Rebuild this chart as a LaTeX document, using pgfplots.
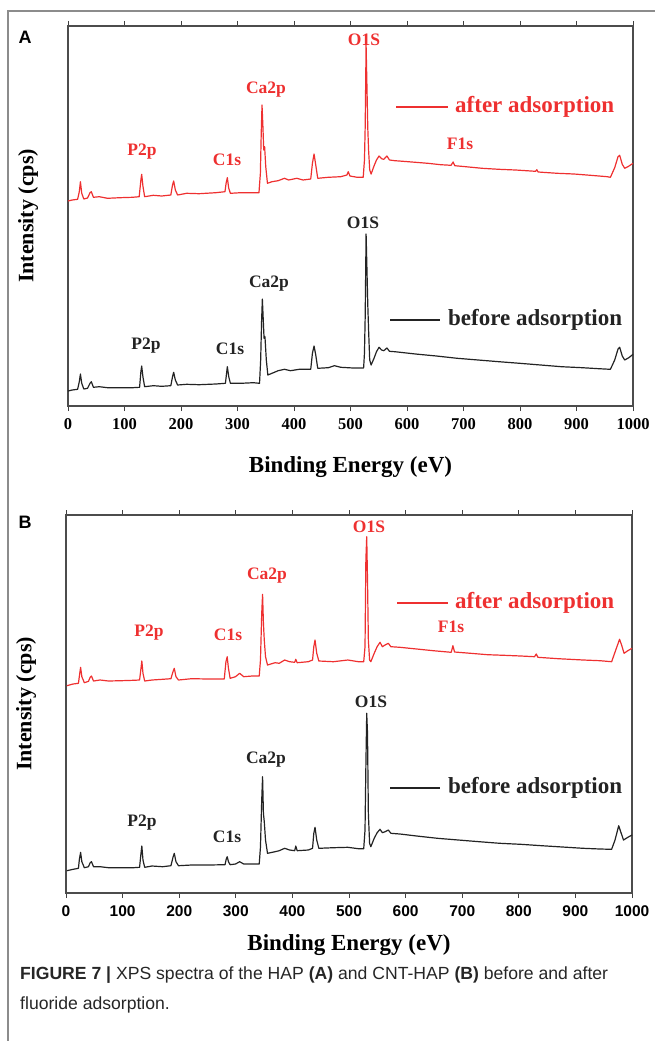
\documentclass[border=0pt]{standalone}
\usepackage{pgfplots}
\pgfplotsset{compat=1.18}
\usepackage{fontspec}
\setmainfont{Liberation Serif}
\newfontfamily\sansf{Liberation Sans}

\definecolor{spred}{RGB}{238,48,48}
\definecolor{spblk}{RGB}{35,35,35}
\definecolor{framegray}{RGB}{140,140,140}

\newcommand{\fs}[1]{\fontsize{#1}{#1}\selectfont}

\pgfplotsset{
  xps/.style={
    scale only axis,
    anchor=north west,
    xmin=0, xmax=1000, ymin=0,
    xtick={0,100,...,1000},
    ytick=\empty,
    xtick align=outside,
    major tick length=5pt,
    tick style={line width=1pt, color=black!75},
    axis line style={line width=1.1pt, color=black!70},
    every axis plot/.append style={line width=1.2pt, line join=round},
    /pgf/number format/assume math mode=true,
    /pgf/number format/1000 sep={},
    xlabel={Binding Energy (eV)},
    ylabel={Intensity (cps)},
    every axis x label/.style={at={(axis description cs:0.5,0)}, anchor=center, font=\fs{23}\bfseries},
    every axis y label/.style={at={(axis description cs:0,0.5)}, xshift=-40pt, rotate=90, anchor=center, font=\fs{22}\bfseries},
    clip=false,
  }
}

\begin{document}
\begin{tikzpicture}[x=1pt,y=1pt]
\useasboundingbox (0,0) rectangle (654,-1041);
% figure frame
\draw[framegray, line width=1.5pt] (8,-1041) -- (8,-11) -- (660,-11);

% ---------------- panel A ----------------
\node[font=\sansf\bfseries\fs{18}] at (25,-37) {A};
\begin{axis}[xps, at={(68pt,-26pt)}, width=565pt, height=380pt, ymax=380,
  xticklabel style={font=\fs{16.5}\bfseries, yshift=-4pt},
  xlabel style={yshift=-61pt}]
\addplot[spred] coordinates {
(0,205) (7.4,206) (17,206.7) (20,214.3) (22,224.3) (24.3,212.7) (28,207)
(34.6,208) (39,213.3) (41.3,214.3) (45,208.7) (55.3,209.3) (70,207.7)
(92,208.3) (114.2,208.7) (126,209.3) (129,226) (130.4,231.7) (132.6,220)
(135.6,209.3) (151,210.7) (165.8,210) (182,211) (185,221) (187,225)
(190,216) (194,211) (210,212.7) (232,212.3) (261.6,213.3) (277.8,214.3)
(280,223.3) (282,228.3) (284.5,217.7) (287.4,212.7) (305.8,213.3)
(328,213.3) (338,213.3) (340.5,232.7) (342,272.7) (343.4,301) (345,279.3)
(346.4,256) (348,259.3) (350,239.3) (353,222.7) (361,224.3) (372,225.3)
(383,227.7) (390.6,226) (405,227.7) (416,226) (429.6,227) (432.6,242.7)
(435.5,252) (438.5,241) (442,227.7) (460.6,228.7) (482.7,229.3) (493.7,231)
(496,234.3) (499,230) (512,228.7) (522.5,228.7) (524.7,246) (526,279.3)
(527.6,361) (529,322.7) (530.6,277.7) (532,256) (534,236) (536.5,232)
(541.6,240) (546,246) (550.5,250) (555,247.3) (559,246.7) (564.5,250)
(569,246) (578.5,245.3) (593,244.7) (615,243.7) (637,242.7) (659.5,241.3)
(678,240.7) (681.6,244) (684.6,240.3) (703.7,239.3) (733,237.7)
(762.7,236.7) (792,236) (827.6,234.7) (829.8,236.3) (832,234) (866,232.7)
(895.4,232) (924.8,230.7) (954.3,229.3) (960,228.7) (967.6,238.3)
(973.5,249.3) (976.4,250.7) (981,241.7) (985.3,237.7) (991,239.3)
(1000,242.7)
};
\addplot[spblk] coordinates {
(0,15) (7.4,16) (17,16.7) (20,24.3) (22,32) (24.3,22.7) (28,17) (34.6,17.7)
(39,22.7) (41.3,24.3) (45,18.7) (55.3,19.3) (70,18.3) (92,18.3) (114.2,18.3)
(126.7,18.7) (129,34.3) (130.4,40) (132.6,29.3) (135.6,19.3) (151,20.3)
(165.8,19.7) (182,20.3) (185,29.3) (187,33.7) (190,26) (194,21) (210,21.7)
(232,21.3) (261.6,22) (278.6,22.7) (281,34.3) (282,39.3) (284.5,29.3)
(287.4,22.7) (305.8,22.7) (328,23.3) (339,22.7) (341,46) (342.7,86)
(344,107) (345.6,86) (347,67.7) (348.6,69.3) (351,46) (353.7,31) (361,32.7)
(372,35.3) (383,36.7) (394,35.3) (409,36.7) (429.6,36.7) (432.6,52.7)
(435.5,60) (438.5,51) (442,37.7) (460.6,38.3) (471.6,40.3) (482.7,38.7)
(504.8,38) (523.2,38) (524.7,52.7) (526,89.3) (527.6,172) (529,139.3)
(530.6,101) (532,76) (534,46) (536.5,41) (541.6,47.7) (546,54.3)
(550.5,58.7) (555,56) (559,55.3) (564.5,58) (569,54.7) (578.5,54.3)
(615,52) (652,50) (689,47.7) (726,46) (762.7,44.3) (799.6,42.7) (836.4,41)
(873.3,39.3) (910,38.3) (939.6,37.3) (960,36.7) (967.6,46) (973.5,57)
(976.4,58.7) (981,50) (985.3,46) (992.6,48.3) (1000,51.7)
};
\end{axis}
% peak labels and key, panel A
\begin{scope}[every node/.style={font=\fs{17.5}\bfseries}]
\node[spred] at (364,-40) {O1S};
\node[spred] at (266,-90) {Ca2p};
\node[spred] at (142,-152) {P2p};
\node[spred] at (227,-160) {C1s};
\node[spred] at (460,-144) {F1s};
\node[spblk] at (363,-223) {O1S};
\node[spblk] at (269,-284) {Ca2p};
\node[spblk] at (146,-346) {P2p};
\node[spblk] at (230,-349) {C1s};
\end{scope}
\draw[spred, line width=1.2pt] (396,-107) -- (448,-107);
\node[spred, anchor=west, inner sep=0pt, font=\fs{23}\bfseries] at (455,-107) {after adsorption};
\draw[spblk, line width=1.2pt] (390,-320) -- (440,-320);
\node[spblk, anchor=west, inner sep=0pt, font=\fs{23}\bfseries] at (448,-320) {before adsorption};

% ---------------- panel B ----------------
\node[font=\sansf\bfseries\fs{18}] at (25,-522) {B};
\begin{axis}[xps, at={(66pt,-515pt)}, width=566pt, height=378pt, ymax=378,
  xticklabel style={font=\sansf\fs{15.5}\bfseries, yshift=-4pt},
  xlabel style={yshift=-52pt}]
\addplot[spred] coordinates {
(1.5,207.3) (12.5,209) (22,209.7) (23.5,216.3) (25.8,225.7) (28,216.3)
(32.4,210.3) (39.7,211.7) (42.7,215.7) (45,217) (48.6,212) (60.3,213)
(75,212) (97,212.3) (119,212.7) (130,213) (132.5,224.7) (134,232)
(136,219.7) (139,212) (152,213) (170.7,213.7) (185.4,214.3) (189,221.3)
(191.3,224.7) (194.3,216.3) (198.7,213) (222,214.3) (251.7,214) (279.6,214)
(282.6,231.3) (284.8,236.3) (287,224.7) (290,214.7) (299.5,216.3)
(306.8,219.7) (314,216.3) (329,217) (341.4,217) (343.6,233) (345.8,279.7)
(347.3,298.7) (348.8,269.7) (350.3,253) (352.5,236.3) (356,228)
(369.4,230.3) (376.7,229.7) (386.3,233) (395,231.3) (404,230.7) (406,233.7)
(408.4,230.3) (428,231.3) (435.6,233) (437.8,246.3) (440,253) (443,239.7)
(446.7,232) (472.4,231.3) (498,233) (516.6,231.3) (526,231.3) (528.3,246.3)
(529.8,333) (531.3,356.3) (532.7,313) (534.2,253) (536.4,233) (538.6,231.3)
(544.5,239.7) (549.7,246.3) (554.8,250.7) (559,246.3) (563.7,248)
(569.5,249.7) (574,246.3) (590,245.7) (619.6,244) (649,242.3) (680.6,240.7)
(683.6,247.3) (686.5,241) (715,239.7) (744.7,238.3) (774,237.7) (803.5,237)
(827.8,236.3) (830.8,239) (833.7,235.7) (869.8,234.3) (914,233) (943.3,232.3)
(964,231.3) (971.3,243) (978,253.7) (981.6,248) (986,239.7) (992.6,242.3)
(1000,244.7)
};
\addplot[spblk] coordinates {
(1.5,22.3) (12.5,23.7) (22,24.7) (23.5,33) (25.8,40.7) (28,31.3) (32.4,25.3)
(39.7,26.3) (42.7,30.3) (45,31.3) (48.6,26.3) (60.3,26.3) (75,25.3) (97,25.3)
(119,25.3) (130,25.7) (132.5,39.7) (134,47) (136,33) (139,25.7) (152,27)
(170.7,26.3) (185.4,27.3) (189,35.7) (191.3,39.7) (194.3,31.3) (198.7,27.3)
(222,28) (251.7,28) (281,28.3) (283,33.7) (284.8,36.3) (287,31.3) (290,28.3)
(299.5,29) (306.8,31.3) (314,29) (329,29) (341.4,29) (343.6,46.3) (345.8,93)
(347.3,116.3) (348.8,79.7) (350.3,71.3) (352.5,53) (356,39.7) (369.4,41.3)
(376.7,42.3) (386.3,44.7) (395,43) (404,42.3) (406,47) (408.4,42.3) (428,43)
(435.6,44.7) (437.8,59.7) (440,65.7) (443,53) (446.7,44.7) (472.4,45.3)
(498,45.7) (516.6,44.3) (526,44.3) (528.3,63) (529.8,126.3) (531.3,179.7)
(532.7,159.7) (534.2,79.7) (536.4,49.7) (538.6,46.3) (544.5,54.7)
(549.7,60.3) (554.8,63.7) (559,60.3) (563.7,61.3) (569.5,63) (574,59.7)
(590,59) (619.6,57) (656.4,54.7) (693.2,53) (730,51.3) (766.7,49.7)
(803.5,48.7) (840.3,47.3) (877,46) (914,44.7) (943.3,44) (964,43.7) (970,53)
(976.5,67.3) (980,61.3) (985,53) (992.6,55.7) (1000,58)
};
\end{axis}
% peak labels and key, panel B
\begin{scope}[every node/.style={font=\fs{17.5}\bfseries}]
\node[spred] at (369,-527) {O1S};
\node[spred] at (267,-576) {Ca2p};
\node[spred] at (149,-633) {P2p};
\node[spred] at (228,-635) {C1s};
\node[spred] at (451,-627) {F1s};
\node[spblk] at (371,-702) {O1S};
\node[spblk] at (266,-760) {Ca2p};
\node[spblk] at (142,-823) {P2p};
\node[spblk] at (227,-837) {C1s};
\end{scope}
\draw[spred, line width=1.2pt] (397,-603) -- (448,-603);
\node[spred, anchor=west, inner sep=0pt, font=\fs{23}\bfseries] at (455,-603) {after adsorption};
\draw[spblk, line width=1.2pt] (390,-788) -- (440,-788);
\node[spblk, anchor=west, inner sep=0pt, font=\fs{23}\bfseries] at (448,-788) {before adsorption};

% ---------------- caption ----------------
\node[anchor=west, inner sep=0pt, font=\sansf\fs{17.6}, text=black!85] at (20,-975)
  {\textbf{FIGURE 7 |} XPS spectra of the HAP \textbf{(A)} and CNT-HAP \textbf{(B)} before and after};
\node[anchor=west, inner sep=0pt, font=\sansf\fs{17.6}, text=black!85] at (20,-1005)
  {fluoride adsorption.};
\end{tikzpicture}
\end{document}
